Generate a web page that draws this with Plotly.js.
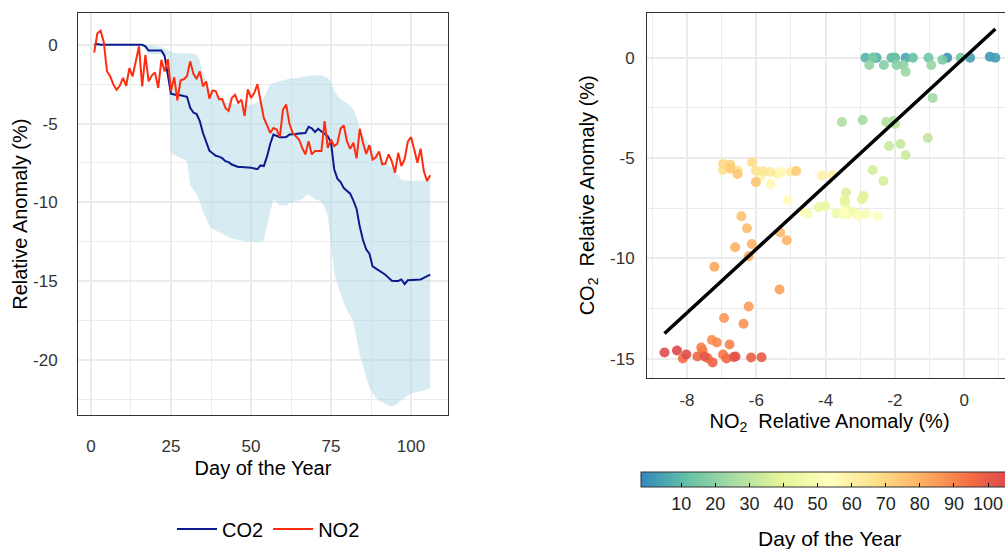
<!DOCTYPE html>
<html>
<head>
<meta charset="utf-8">
<script src="https://cdn.plot.ly/plotly-3.0.1.min.js"></script>
<style>
html,body{margin:0;padding:0;overflow:hidden;background:#fff;width:1005px;height:549px;}
#chart{width:1020px;height:549px;}
</style>
</head>
<body>
<div id="chart"></div>
<script>
// ---- Data ----
const days = [1,2,3,4,5,6,7,8,9,10,11,12,13,14,15,16,17,18,19,20,
  21,22,23,24,25,26,27,28,29,30,31,32,33,34,35,36,37,38,39,40,
  41,42,43,44,45,46,47,48,49,50,51,52,53,54,55,56,57,58,59,60,
  61,62,63,64,65,66,67,68,69,70,71,72,73,74,75,76,77,78,79,80,
  81,82,83,84,85,86,87,88,89,90,91,92,93,94,95,96,97,98,99,100,
  101,102,103,104,105,106];

const co2 = [0,0.05,0,0,0,0,0,0,0,0,
  0,0,0,0,0,0,-0.1,-0.36,-0.36,-0.36,
  -0.36,-0.36,-0.7,-2.0,-3.1,-3.15,-3.2,-3.2,-3.25,-3.3,
  -4.0,-4.3,-4.4,-4.85,-5.6,-6.14,-6.72,-6.89,-7.05,-7.1,
  -7.2,-7.39,-7.45,-7.6,-7.7,-7.76,-7.76,-7.77,-7.78,-7.8,
  -7.85,-7.9,-7.66,-7.7,-7.1,-6.3,-5.7,-5.8,-5.87,-5.87,
  -5.85,-5.7,-5.7,-5.66,-5.63,-5.62,-5.6,-5.21,-5.3,-5.54,
  -5.33,-5.5,-5.65,-5.8,-6.2,-7.9,-8.5,-8.71,-9.1,-9.29,
  -9.45,-9.9,-10.42,-11.56,-12.4,-12.98,-13.26,-14.07,-14.2,-14.3,
  -14.45,-14.6,-14.8,-14.98,-15.0,-15.0,-14.9,-15.19,-14.95,-14.93,
  -14.92,-14.9,-14.9,-14.8,-14.7,-14.6];

const no2 = [-0.49,0.74,0.9,0.17,-1.69,-2.0,-2.53,-2.85,-2.6,-2.1,
  -2.6,-1.48,-2.0,-1.03,-0.1,-2.64,-0.63,-2.32,-1.95,-1.75,
  -2.74,-0.95,-1.69,-0.91,-2.93,-2.05,-3.53,-2.25,-2.19,-1.99,
  -1.05,-1.84,-2.17,-1.69,-2.64,-2.33,-3.41,-2.9,-2.95,-3.45,
  -3.44,-4.01,-4.2,-3.37,-3.17,-3.69,-3.48,-4.52,-2.83,-3.37,
  -3.06,-2.5,-3.48,-4.64,-5.1,-5.59,-5.28,-5.38,-5.85,-4.11,
  -3.8,-5.0,-5.59,-5.8,-6.01,-6.54,-6.96,-6.12,-6.96,-6.75,
  -6.75,-6.75,-4.85,-6.54,-6.01,-6.43,-6.27,-5.31,-5.12,-6.13,
  -6.61,-6.22,-7.21,-5.33,-6.22,-6.93,-6.37,-7.28,-7.14,-6.77,
  -7.59,-7.55,-6.96,-7.4,-8.12,-6.86,-7.7,-7.26,-6.15,-5.85,
  -6.65,-7.49,-6.6,-8.02,-8.65,-8.29];

const bandUpper = [0,0,0,0,0,0,0,0,0,0,
  0,0,0,0,0,0,0,-0.05,-0.05,-0.1,
  -0.1,-0.15,-0.2,-0.35,-0.45,-0.5,-0.53,-0.53,-0.53,-0.53,
  -0.53,-0.55,-0.65,-1.0,-1.8,-2.4,-2.8,-3.0,-3.2,-3.4,
  -3.5,-3.65,-3.7,-3.75,-3.8,-3.85,-3.86,-3.85,-3.83,-3.8,
  -3.75,-3.65,-3.55,-3.4,-2.9,-2.55,-2.43,-2.35,-2.3,-2.25,
  -2.2,-2.15,-2.12,-2.1,-2.1,-2.05,-2.0,-1.95,-1.95,-1.95,
  -1.95,-1.95,-2.0,-2.1,-2.4,-2.9,-3.25,-3.45,-3.6,-3.7,
  -3.9,-4.11,-4.6,-5.3,-5.8,-6.1,-6.4,-6.65,-6.9,-7.15,
  -7.3,-7.5,-7.65,-7.8,-8.0,-8.3,-8.55,-8.62,-8.65,-8.65,
  -8.65,-8.65,-8.65,-8.65,-8.65,-8.65];

const bandLower = [0,0,0,0,0,0,0,0,0,0,
  0,0,0,0,0,0,-0.3,-0.6,-0.6,-0.6,
  -0.6,-0.6,-0.6,-0.7,-6.86,-7.0,-7.1,-7.2,-7.25,-7.4,
  -8.9,-9.2,-9.49,-10.0,-10.6,-11.1,-11.5,-11.7,-11.8,-11.9,
  -12.0,-12.1,-12.2,-12.28,-12.34,-12.4,-12.42,-12.45,-12.48,-12.5,
  -12.52,-12.55,-12.5,-12.4,-11.5,-10.6,-9.8,-10.0,-10.2,-10.2,
  -10.2,-10.05,-10.0,-9.95,-9.85,-9.8,-9.6,-9.49,-9.65,-9.8,
  -9.85,-10.0,-10.3,-10.87,-12.76,-14.45,-15.2,-15.8,-16.4,-16.8,
  -17.2,-17.6,-18.6,-19.7,-20.4,-21.1,-21.8,-22.1,-22.4,-22.6,
  -22.7,-22.8,-22.9,-22.95,-22.9,-22.75,-22.6,-22.4,-22.25,-22.15,
  -22.1,-22.05,-22.0,-21.95,-21.9,-21.8];

// Linear fit shown in the right panel (coefficients)
const fitIntercept = 0.0;
const fitSlope = 1.59;

const xTicksLeft = [0,25,50,75,100];
const yTicksLeft = [0,-5,-10,-15,-20];
const xTicksRight = [-8,-6,-4,-2,0];
const yTicksRight = [0,-5,-10,-15];
const cbTicks = [10,20,30,40,50,60,70,80,90,100];

const fitX = [Math.min(...no2), Math.max(...no2)];
const fitY = fitX.map(v => fitIntercept + fitSlope*v);
const lbl = arr => arr.map(v => String(v));   // ASCII hyphen minus as in the reference

// ---- Geometry ----
const W = 1020, H = 549;
const px = v => v / W;
const py = v => 1 - v / H;

const FONT = 'Liberation Sans, Arial, Helvetica, sans-serif';
const spectralRev = [
  [0.0,'#3288BD'],[0.125,'#66C2A5'],[0.25,'#ABDDA4'],[0.375,'#E6F598'],[0.5,'#FFFFBF'],
  [0.625,'#FEE08B'],[0.75,'#FDAE61'],[0.875,'#F46D43'],[1.0,'#D53E4F']];

const traces = [
  {
    x: days.concat(days.slice().reverse()),
    y: bandUpper.concat(bandLower.slice().reverse()),
    type: 'scatter', mode: 'lines', fill: 'toself',
    fillcolor: 'rgba(173,216,230,0.5)', line: {width: 0, color: 'rgba(0,0,0,0)'},
    hoverinfo: 'skip', showlegend: false, xaxis: 'x', yaxis: 'y'
  },
  {
    x: days, y: co2, name: 'CO2', type: 'scatter', mode: 'lines',
    line: {color: '#0b1a8c', width: 2}, xaxis: 'x', yaxis: 'y'
  },
  {
    x: days, y: no2, name: 'NO2', type: 'scatter', mode: 'lines',
    line: {color: '#ff2d10', width: 2}, xaxis: 'x', yaxis: 'y'
  },
  {
    x: no2, y: co2, type: 'scatter', mode: 'markers', showlegend: false,
    xaxis: 'x2', yaxis: 'y2',
    marker: {
      size: 10, opacity: 0.9, color: days, colorscale: spectralRev,
      cmin: -1.8, cmax: 108.8, line: {width: 0},
      colorbar: {
        orientation: 'h', lenmode: 'pixels', len: 377, thickness: 15,
        x: px(829.5), xanchor: 'center', y: py(474), yanchor: 'top',
        xpad: 0, ypad: 0, outlinewidth: 1, outlinecolor: '#333',
        tickvals: cbTicks, ticktext: lbl(cbTicks),
        ticks: 'inside', ticklen: 4, tickcolor: '#000', tickwidth: 1,
        tickfont: {family: FONT, size: 18, color: '#222'}
      }
    }
  },
  {
    x: fitX, y: fitY, type: 'scatter', mode: 'lines', showlegend: false,
    line: {color: '#000', width: 3.5}, xaxis: 'x2', yaxis: 'y2', hoverinfo: 'skip'
  }
];

const axisCommon = {
  showline: true, mirror: true, linecolor: '#333', linewidth: 1,
  showgrid: true, gridcolor: '#ebebeb', gridwidth: 2, zeroline: false,
  ticks: '', tickfont: {family: FONT, size: 17, color: '#333'},
  automargin: false
};

const layout = {
  width: W, height: H,
  margin: {l: 0, r: 0, t: 0, b: 0},
  paper_bgcolor: '#fff', plot_bgcolor: '#fff',
  font: {family: FONT, color: '#000'},
  showlegend: true,
  legend: {
    orientation: 'h', x: px(172), xanchor: 'left', y: py(531), yanchor: 'middle',
    font: {family: FONT, size: 20, color: '#000'}, itemwidth: 40,
    bgcolor: 'rgba(0,0,0,0)'
  },
  annotations: [{
    text: 'Day of the Year', xref: 'paper', yref: 'paper',
    x: px(829.5), y: py(540), xanchor: 'center', yanchor: 'middle',
    showarrow: false, font: {family: FONT, size: 21, color: '#000'}
  }],
  xaxis: Object.assign({}, axisCommon, {
    domain: [px(78), px(448)], range: [-4.06, 111.56],
    tickvals: xTicksLeft, ticktext: lbl(xTicksLeft), ticklabelstandoff: 15,
    minor: {dtick: 12.5, tick0: 0, showgrid: true, gridcolor: '#ebebeb', gridwidth: 1},
    title: {text: 'Day of the Year', standoff: 6, font: {family: FONT, size: 20, color: '#000'}},
    anchor: 'y'
  }),
  yaxis: Object.assign({}, axisCommon, {
    domain: [py(417), py(13)], range: [-23.54, 2.025],
    tickvals: yTicksLeft, ticktext: lbl(yTicksLeft), ticklabelstandoff: 16,
    minor: {dtick: 2.5, tick0: 0, showgrid: true, gridcolor: '#ebebeb', gridwidth: 1},
    title: {text: 'Relative Anomaly (%)', standoff: 0, font: {family: FONT, size: 20, color: '#000'}},
    anchor: 'x'
  }),
  xaxis2: Object.assign({}, axisCommon, {
    domain: [px(647), px(1012)], range: [-9.155, 1.38],
    tickvals: xTicksRight, ticktext: lbl(xTicksRight), ticklabelstandoff: 7,
    minor: {dtick: 1, tick0: 0, showgrid: true, gridcolor: '#ebebeb', gridwidth: 1},
    title: {text: 'NO<sub>2</sub>  Relative Anomaly (%)', standoff: 2, font: {family: FONT, size: 20, color: '#000'}},
    anchor: 'y2'
  }),
  yaxis2: Object.assign({}, axisCommon, {
    domain: [py(379), py(13)], range: [-15.95, 2.235],
    tickvals: yTicksRight, ticktext: lbl(yTicksRight), ticklabelstandoff: 8,
    minor: {dtick: 2.5, tick0: 0, showgrid: true, gridcolor: '#ebebeb', gridwidth: 1},
    title: {text: 'CO<sub>2</sub>  Relative Anomaly (%)', standoff: 10, font: {family: FONT, size: 20, color: '#000'}},
    anchor: 'x2'
  })
};

Plotly.newPlot('chart', traces, layout, {staticPlot: true, displayModeBar: false});
</script>
</body>
</html>
